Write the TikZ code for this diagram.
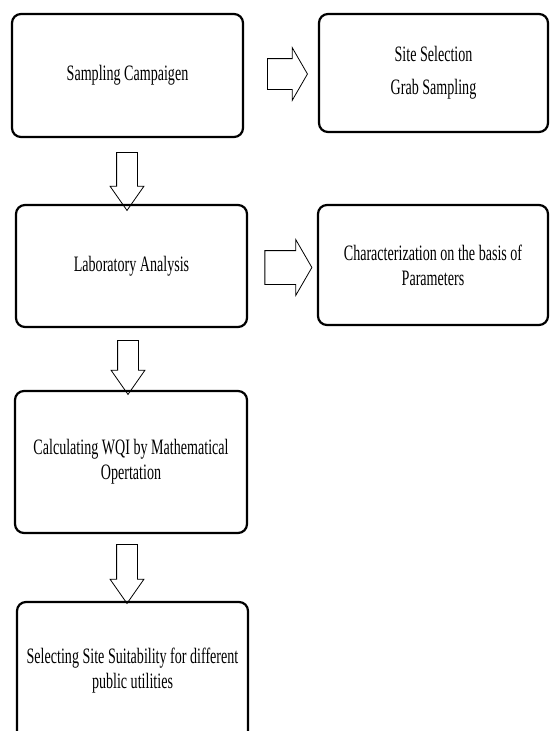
\documentclass[tikz,border=0pt]{standalone}
\usepackage{fontspec}
\setmainfont{Liberation Serif}[FakeStretch=0.64]
\usetikzlibrary{shapes.arrows}

\tikzset{
  stepbox/.style={draw, line width=2.2pt, rounded corners=9pt, align=center,
    font=\fontsize{22}{25}\selectfont},
  downarrow/.style={single arrow, draw, line width=0.8pt, rotate=-90,
    inner xsep=0pt, inner ysep=10pt, single arrow head extend=6.5pt,
    single arrow tip angle=70},
  rightarrow/.style={single arrow, draw, line width=0.8pt,
    inner xsep=0pt, inner ysep=15pt, single arrow head extend=11pt,
    single arrow tip angle=120}
}

\begin{document}
\begin{tikzpicture}[x=1pt,y=-1pt]
    \useasboundingbox (0,0) rectangle (551,731);

    %Draw steps
    \node[stepbox, minimum width=231pt, minimum height=123pt] (sampling) at (127.5,75.5) {Sampling Campaigen};
    \node[stepbox, minimum width=229pt, minimum height=118pt] (site) at (433.5,73) {Site Selection\\[8pt]Grab Sampling};
    \node[stepbox, minimum width=231pt, minimum height=122pt] (lab) at (131.5,266) {Laboratory Analysis};
    \node[stepbox, minimum width=230pt, minimum height=120pt] (charac) at (433,265) {Characterization on the basis of\\Parameters};
    \node[stepbox, minimum width=232pt, minimum height=142pt] (wqi) at (131,462) {Calculating WQI by Mathematical\\Opertation};
    \node[stepbox, minimum width=231pt, minimum height=138pt] (suit) at (132.5,671) {Selecting Site Suitability for different\\public utilities};

    %Draw block arrows
    \node[rightarrow, minimum height=40pt] (samplingsite) at (283,74) {};
    \node[rightarrow, minimum height=47pt, inner ysep=16.5pt] (labcharac) at (283.5,267.5) {};
    \node[downarrow, minimum height=58pt] (samplinglab) at (127,174) {};
    \node[downarrow, minimum height=54pt] (labwqi) at (128,360) {};
    \node[downarrow, minimum height=59pt] (wqisuit) at (127,566.5) {};

\end{tikzpicture}
\end{document}
